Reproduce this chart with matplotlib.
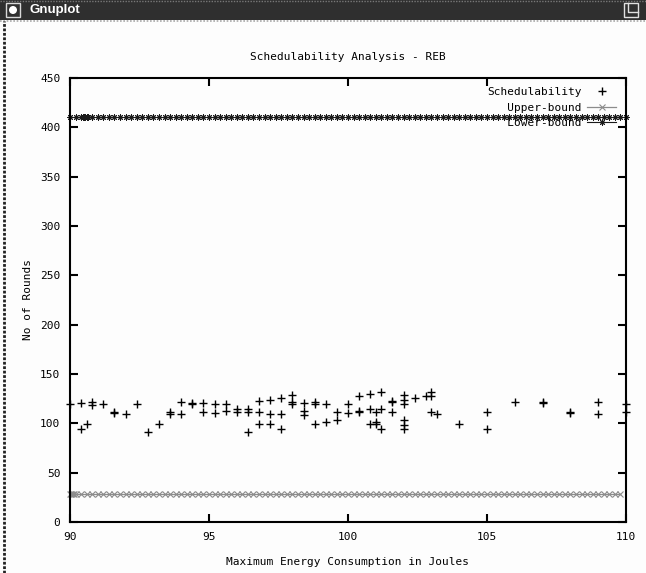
import matplotlib
matplotlib.use('Agg')
import matplotlib.pyplot as plt
from matplotlib.patches import Rectangle, Ellipse
from matplotlib.lines import Line2D

# values
schedX = [90.0, 90.4, 90.4, 90.6, 90.8, 90.8, 91.2, 91.6, 91.6, 92.0,
          92.4, 92.8, 93.2, 93.6, 93.6, 94.0, 94.0, 94.4, 94.4, 94.8,
          94.8, 95.2, 95.2, 95.6, 95.6, 96.0, 96.0, 96.4, 96.4, 96.4,
          96.8, 96.8, 96.8, 97.2, 97.2, 97.2, 97.6, 97.6, 97.6, 98.0,
          98.0, 98.0, 98.4, 98.4, 98.4, 98.8, 98.8, 98.8, 99.2, 99.2,
          99.6, 99.6, 100.0, 100.0, 100.4, 100.4, 100.4, 100.8, 100.8, 100.8,
          101.0, 101.0, 101.0, 101.2, 101.2, 101.2, 101.6, 101.6, 101.6, 102.0,
          102.0, 102.0, 102.0, 102.0, 102.0, 102.4, 102.8, 103.0, 103.0, 103.0,
          103.2, 104.0, 105.0, 105.0, 106.0, 107.0, 107.0, 108.0, 108.0, 109.0,
          109.0, 110.0, 110.0]
schedY = [120, 121, 94, 99.5, 122, 119, 120, 111, 110, 109,
          120, 91, 99, 111, 109, 122, 109, 120, 121, 121,
          111, 119.5, 110, 120, 113, 115, 111, 115, 111, 91,
          123, 111, 99, 124, 109, 99, 126, 109, 94, 129,
          122, 120, 121, 112, 108, 122, 119.5, 99.5, 120, 101,
          111, 103, 120, 110, 128, 113, 111, 130, 115, 99.5,
          111, 101, 99, 132, 115, 94, 123, 122, 111, 129,
          124, 120, 103, 98, 94, 126, 128, 132, 128, 111,
          109, 99, 111, 94, 122, 121, 122, 110, 111, 122,
          109, 120, 111]

upperX = [90.0, 90.05, 90.1, 90.15, 90.2, 90.4, 90.6, 90.8,
          91.0, 91.2, 91.4, 91.6, 91.8, 92.0, 92.2, 92.4, 92.6, 92.8,
          93.0, 93.2, 93.4, 93.6, 93.8, 94.0, 94.2, 94.4, 94.6, 94.8,
          95.0, 95.2, 95.4, 95.6, 95.8, 96.0, 96.2, 96.4, 96.6, 96.8,
          97.0, 97.2, 97.4, 97.6, 97.8, 98.0, 98.2, 98.4, 98.6, 98.8,
          99.0, 99.2, 99.4, 99.6, 99.8, 100.0, 100.2, 100.4, 100.6, 100.8,
          101.0, 101.2, 101.4, 101.6, 101.8, 102.0, 102.2, 102.4, 102.6, 102.8,
          103.0, 103.2, 103.4, 103.6, 103.8, 104.0, 104.2, 104.4, 104.6, 104.8,
          105.0, 105.2, 105.4, 105.6, 105.8, 106.0, 106.2, 106.4, 106.6, 106.8,
          107.0, 107.2, 107.4, 107.6, 107.8, 108.0, 108.2, 108.4, 108.6, 108.8,
          109.0, 109.2, 109.4, 109.6, 109.8]
upperBound = 28

lowerX = [90.0, 90.2, 90.4, 90.45, 90.5, 90.55, 90.6, 90.65, 90.8,
          91.0, 91.2, 91.4, 91.6, 91.8, 92.0, 92.2, 92.4, 92.6, 92.8,
          93.0, 93.2, 93.4, 93.6, 93.8, 94.0, 94.2, 94.4, 94.6, 94.8,
          95.0, 95.2, 95.4, 95.6, 95.8, 96.0, 96.2, 96.4, 96.6, 96.8,
          97.0, 97.2, 97.4, 97.6, 97.8, 98.0, 98.2, 98.4, 98.6, 98.8,
          99.0, 99.2, 99.4, 99.6, 99.8, 100.0, 100.2, 100.4, 100.6, 100.8,
          101.0, 101.2, 101.4, 101.6, 101.8, 102.0, 102.2, 102.4, 102.6, 102.8,
          103.0, 103.2, 103.4, 103.6, 103.8, 104.0, 104.2, 104.4, 104.6, 104.8,
          105.0, 105.2, 105.4, 105.6, 105.8, 106.0, 106.2, 106.4, 106.6, 106.8,
          107.0, 107.2, 107.4, 107.6, 107.8, 108.0, 108.2, 108.4, 108.6, 108.8,
          109.0, 109.2, 109.4, 109.6, 109.8, 110.0]
lowerBound = 410

xTicks = [90, 95, 100, 105, 110]
yTicks = [0, 50, 100, 150, 200, 250, 300, 350, 400, 450]

W, H = 646, 573
mono = 'DejaVu Sans Mono'

fig = plt.figure(figsize=(W / 100, H / 100), dpi=100)
fig.patch.set_facecolor('#fdfdfd')

# window decoration (title bar + left border)
fig.add_artist(Rectangle((0, 1 - 20 / H), 1, 20 / H, transform=fig.transFigure,
                         facecolor='#2f2f2f', edgecolor='none'))
fig.add_artist(Line2D([0, 1], [1 - 20.5 / H] * 2, transform=fig.transFigure,
                      color='#a8a8a8', lw=1.2, ls=(0, (1, 1))))
fig.add_artist(Line2D([0, 1], [1 - 0.5 / H] * 2, transform=fig.transFigure,
                      color='#777777', lw=1, ls=(0, (1, 1))))
fig.add_artist(Rectangle((6 / W, 1 - 17 / H), 14 / W, 14 / H, transform=fig.transFigure,
                         facecolor='none', edgecolor='#d8d8d8', lw=1))
fig.add_artist(Ellipse((13 / W, 1 - 10 / H), 8 / W, 8 / H, transform=fig.transFigure,
                       facecolor='white', edgecolor='none'))
fig.add_artist(Rectangle((624 / W, 1 - 17 / H), 14 / W, 14 / H, transform=fig.transFigure,
                         facecolor='none', edgecolor='#e0e0e0', lw=1))
fig.add_artist(Line2D([628 / W, 628 / W, 638 / W], [1 - 3 / H, 1 - 12 / H, 1 - 12 / H],
                      transform=fig.transFigure, color='#e0e0e0', lw=1))
fig.text(30 / W, 1 - 10 / H, 'Gnuplot', color='white', fontweight='bold',
         family='Liberation Sans', fontsize=9.5, va='center', ha='left')
fig.add_artist(Line2D([4 / W] * 2, [0, 1 - 21 / H], transform=fig.transFigure,
                      color='#222222', lw=2, ls=(0, (1, 0.6))))

ax = fig.add_axes([70 / W, (H - 522) / H, 556 / W, 444 / H])
ax.set_facecolor('#fdfdfd')

ax.plot(schedX, schedY, ls='none', marker='+', ms=5.5, mew=1.0, color='black',
        label='Schedulability', clip_on=False, zorder=3)
ax.plot(upperX, [upperBound] * len(upperX), color='#8c8c8c', lw=0.9, marker='x',
        ms=3.8, mew=0.8, label='   Upper-bound', clip_on=False)
ax.plot(lowerX, [lowerBound] * len(lowerX), color='#1a1a1a', lw=0.8, marker=(8, 2, 0),
        ms=4.5, mew=0.7, label='   Lower-bound', clip_on=False)

ax.set_xlim(90, 110)
ax.set_ylim(0, 450)
ax.set_xticks(xTicks)
ax.set_yticks(yTicks)
ax.set_xticklabels([str(t) for t in xTicks], family=mono, fontsize=8)
ax.set_yticklabels([str(t) for t in yTicks], family=mono, fontsize=8)
ax.tick_params(direction='in', length=6, width=1.5, top=True, right=True, color='black')
ax.tick_params(axis='x', pad=7)
ax.tick_params(axis='y', pad=7)
for s in ax.spines.values():
    s.set_linewidth(1.5)
    s.set_color('black')

ax.set_title('Schedulability Analysis - REB', family=mono, fontsize=8, pad=13)
ax.set_xlabel('Maximum Energy Consumption in Joules', family=mono, fontsize=8, labelpad=11)
ax.set_ylabel('No of Rounds', family=mono, fontsize=8, labelpad=5)

leg = ax.legend(loc='upper right', bbox_to_anchor=(1 - 10 / 556, 1 - 9 / 444),
                frameon=False, markerfirst=False, numpoints=1, borderpad=0,
                borderaxespad=0, labelspacing=0.5, handlelength=2.6,
                handletextpad=0.5, prop={'family': mono, 'size': 8})

fig.savefig('out.png', dpi=100)
